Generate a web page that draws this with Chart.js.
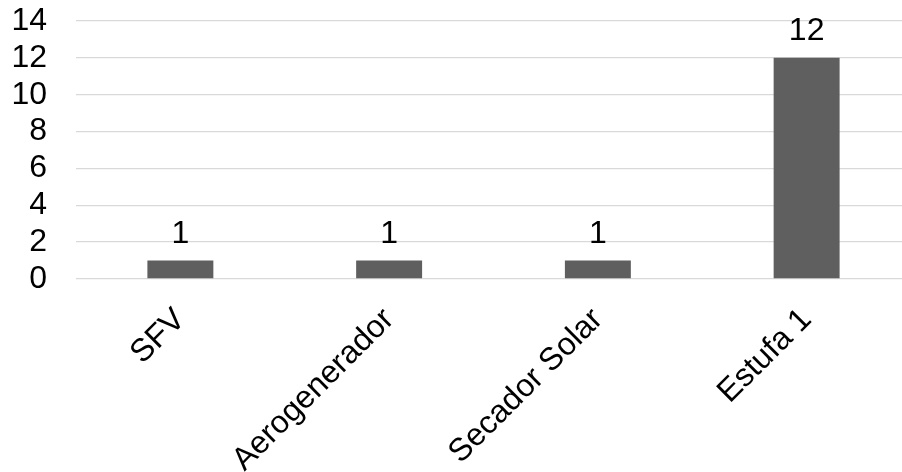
<!DOCTYPE html>
<html>
<head>
<meta charset="utf-8">
<script src="https://cdn.jsdelivr.net/npm/chart.js@4.4.1/dist/chart.umd.min.js"></script>
<style>
  html, body { margin: 0; padding: 0; background: #fff; overflow: hidden; }
  #wrap { position: relative; width: 912px; height: 472px; }
</style>
</head>
<body>
<div id="wrap"><canvas id="c"></canvas></div>
<script>
const categories = ["SFV", "Aerogenerador", "Secador Solar", "Estufa 1"];
const values = [1, 1, 1, 12];
const yMin = 0, yMax = 14, yStep = 2;

const FONT = "'Liberation Sans', Arial, sans-serif";

const valueLabels = {
  id: 'valueLabels',
  afterDatasetsDraw(chart) {
    const ctx = chart.ctx;
    const meta = chart.getDatasetMeta(0);
    ctx.save();
    ctx.font = "32px " + FONT;
    ctx.fillStyle = '#000';
    ctx.textAlign = 'center';
    ctx.textBaseline = 'alphabetic';
    meta.data.forEach((bar, i) => {
      ctx.fillText(String(values[i]), bar.x, bar.y - 18);
    });
    ctx.restore();
  }
};

new Chart(document.getElementById('c'), {
  type: 'bar',
  data: {
    labels: categories,
    datasets: [{
      data: values,
      backgroundColor: '#5f5f5f',
      borderWidth: 0,
      barPercentage: 1,
      categoryPercentage: 0.316
    }]
  },
  options: {
    responsive: true,
    maintainAspectRatio: false,
    animation: false,
    events: [],
    layout: { padding: { top: 21, left: 0, right: 1, bottom: 0 } },
    plugins: { legend: { display: false }, tooltip: { enabled: false } },
    scales: {
      x: {
        grid: { display: false, drawTicks: false },
        border: { display: false },
        ticks: {
          color: '#000',
          font: { size: 32, family: FONT },
          minRotation: 45,
          maxRotation: 45,
          autoSkip: false,
          padding: 22
        },
        afterFit(scale) { scale.height = 193; scale.paddingLeft = 0; scale.paddingRight = 0; }
      },
      y: {
        min: yMin,
        max: yMax,
        grid: { color: '#d9d9d9', lineWidth: 1.3, drawTicks: false },
        border: { display: false },
        ticks: {
          stepSize: yStep,
          autoSkip: false,
          color: '#000',
          font: { size: 32, family: FONT },
          padding: 29
        },
        afterFit(scale) { scale.width = 76; scale.paddingTop = 0; scale.paddingBottom = 0; }
      }
    }
  },
  plugins: [valueLabels]
});
</script>
</body>
</html>
